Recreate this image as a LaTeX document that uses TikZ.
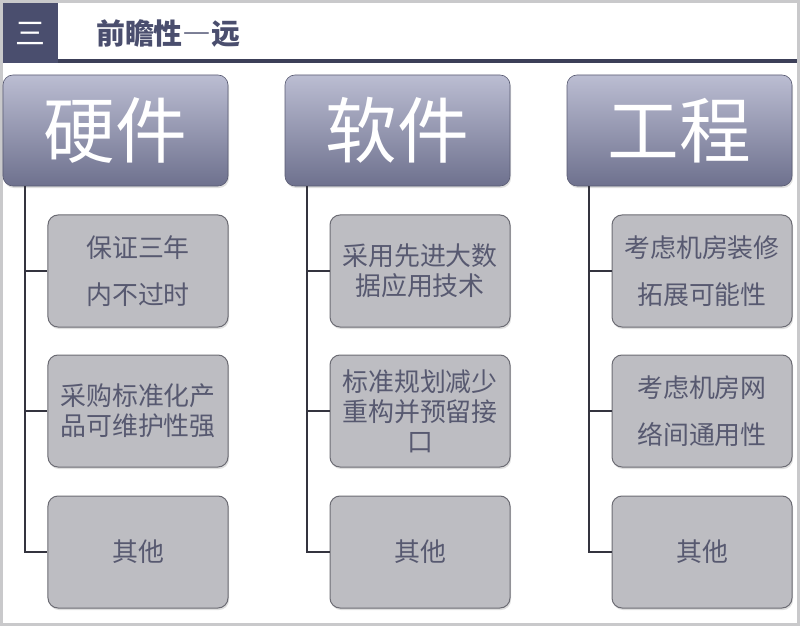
\documentclass[tikz,border=0pt]{standalone}
\usepackage{fontspec}
\setmainfont{Noto Sans CJK SC}
\usetikzlibrary{shadows}
\definecolor{frame}{HTML}{C9C9CB}
\definecolor{navy}{HTML}{4A4E6E}
\definecolor{hline}{HTML}{3C3F58}
\definecolor{toptop}{HTML}{BBBDD2}
\definecolor{topbot}{HTML}{6E718E}
\definecolor{childfill}{HTML}{BDBDC2}
\definecolor{childdraw}{HTML}{6C6C74}
\definecolor{childtext}{HTML}{575970}
\definecolor{linkc}{HTML}{34343F}
\tikzset{
  topbox/.style={rounded corners=10bp, top color=toptop, bottom color=topbot, draw=topbot!80!black, line width=0.6bp,
    minimum width=225bp, minimum height=111bp, inner sep=0pt, text=white,
    font=\fontsize{72}{80}\selectfont,
    drop shadow={shadow xshift=1bp, shadow yshift=-2bp, opacity=0.25}},
  childbox/.style={rounded corners=10bp, fill=childfill, draw=childdraw, line width=1bp,
    minimum width=180bp, minimum height=112bp, inner sep=0pt, text=childtext, align=center,
    font=\fontsize{26}{30}\selectfont,
    drop shadow={shadow xshift=1bp, shadow yshift=-2bp, opacity=0.25}},
  link/.style={draw=linkc, line width=2.2bp}
}
\begin{document}
\begin{tikzpicture}[x=1bp,y=-1bp]
\fill[frame] (0,0) rectangle (800,626);
\fill[white] (3,3) rectangle (797,623);
\useasboundingbox (0,0) rectangle (800,626);
% header
\fill[hline] (58,59.5) rectangle (797,63.5);
\node[fill=navy, minimum width=55bp, minimum height=60bp, inner sep=0pt, anchor=north west, text=white, font=\fontsize{30}{34}\selectfont] (hdr) at (3,3) {三};
\node[anchor=west, text=navy, font=\fontsize{29}{32}\selectfont\bfseries\addfontfeatures{RawFeature=+fwid}, inner sep=0pt] (title) at (96,33) {前瞻性—远};
% top boxes
\node[topbox] (hw) at (115.5,130.5) {硬件};
\node[topbox] (sw) at (397.5,130.5) {软件};
\node[topbox] (en) at (679.5,130.5) {工程};
% column 1
\node[childbox] (h1) at (138,271) {保证三年\\[17pt]内不过时};
\node[childbox] (h2) at (138,411) {采购标准化产\\品可维护性强};
\node[childbox] (h3) at (138,552) {其他};
% column 2
\node[childbox] (s1) at (420,271) {采用先进大数\\据应用技术};
\node[childbox] (s2) at (420,411) {标准规划减少\\重构并预留接\\口};
\node[childbox] (s3) at (420,552) {其他};
% column 3
\node[childbox] (e1) at (702,271) {考虑机房装修\\[17pt]拓展可能性};
\node[childbox] (e2) at (702,411) {考虑机房网\\[17pt]络间通用性};
\node[childbox] (e3) at (702,552) {其他};
% trunks
\coordinate (j1) at (25,0);
\coordinate (j2) at (307,0);
\coordinate (j3) at (589,0);
\draw[link] (hw.south -| j1) |- (h3.west);
\draw[link] (j1 |- h1.west) -- (h1.west);
\draw[link] (j1 |- h2.west) -- (h2.west);
\draw[link] (sw.south -| j2) |- (s3.west);
\draw[link] (j2 |- s1.west) -- (s1.west);
\draw[link] (j2 |- s2.west) -- (s2.west);
\draw[link] (en.south -| j3) |- (e3.west);
\draw[link] (j3 |- e1.west) -- (e1.west);
\draw[link] (j3 |- e2.west) -- (e2.west);
\end{tikzpicture}
\end{document}
